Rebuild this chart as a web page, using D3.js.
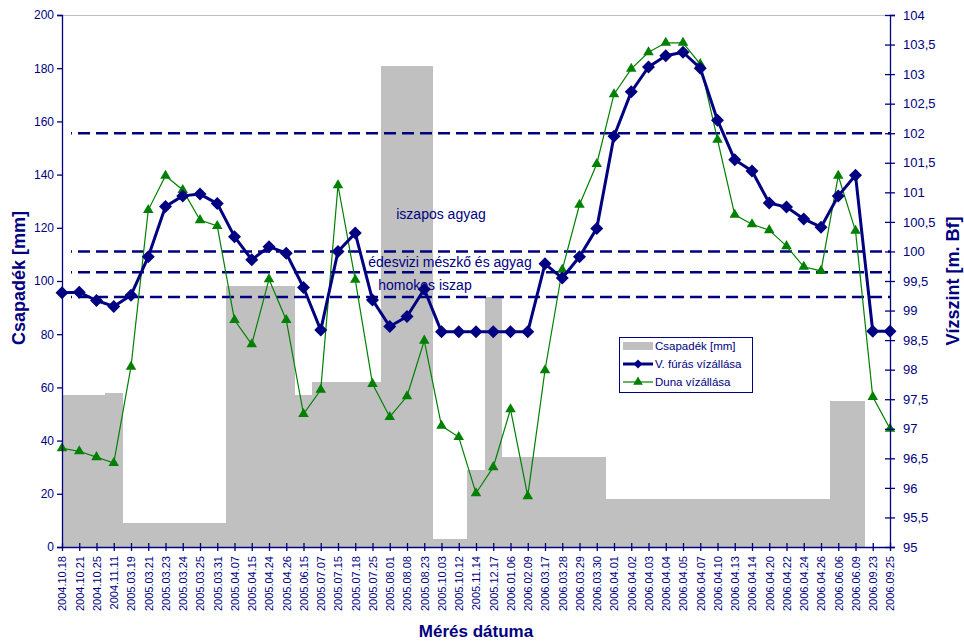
<!DOCTYPE html>
<html>
<head>
<meta charset="utf-8">
<script src="https://cdn.jsdelivr.net/npm/d3@7/dist/d3.min.js"></script>
<style>
  html, body { margin: 0; padding: 0; background: #fff; }
  svg { display: block; font-family: "Liberation Sans", Arial, sans-serif; }
</style>
</head>
<body>
<svg id="chart" width="964" height="641"></svg>
<script>
// Measurement dates (category axis)
const dates = [
  "2004.10.18","2004.10.21","2004.10.25","2004.11.11","2005.03.19","2005.03.21","2005.03.23",
  "2005.03.24","2005.03.25","2005.03.31","2005.04.07","2005.04.15","2005.04.24","2005.04.26",
  "2005.06.15","2005.07.07","2005.07.15","2005.07.18","2005.07.25","2005.08.01","2005.08.08",
  "2005.08.23","2005.10.03","2005.10.12","2005.11.14","2005.12.17","2006.01.06","2006.02.09",
  "2006.03.17","2006.03.28","2006.03.29","2006.03.30","2006.04.01","2006.04.02","2006.04.03",
  "2006.04.04","2006.04.05","2006.04.07","2006.04.10","2006.04.13","2006.04.14","2006.04.20",
  "2006.04.22","2006.04.24","2006.04.26","2006.06.06","2006.06.09","2006.09.23","2006.09.25"
];

// Precipitation [mm] (left axis)
const precipitation = [
  57, 57, 57, 58, 9, 9, 9, 9, 9, 9, 98, 98, 98, 98, 57, 62, 62, 62, 62, 181, 181, 181,
  3, 3, 29, 94, 34, 34, 34, 34, 34, 34, 18, 18, 18, 18, 18, 18, 18, 18, 18, 18, 18, 18, 18,
  55, 55, 0, 0
];

// Water level in borehole V. [m Bf] (right axis)
const wellLevel = [
  99.30, 99.31, 99.17, 99.07, 99.26, 99.91, 100.76, 100.94, 100.97, 100.81, 100.25, 99.86,
  100.08, 99.97, 99.39, 98.67, 100.00, 100.31, 99.18, 98.73, 98.90, 99.36, 98.64, 98.64,
  98.64, 98.64, 98.64, 98.64, 99.79, 99.55, 99.91, 100.39, 101.95, 102.70, 103.12, 103.31,
  103.37, 103.10, 102.22, 101.55, 101.36, 100.82, 100.75, 100.55, 100.41, 100.94, 101.29,
  98.65, 98.65
];

// Danube water level [m Bf] (right axis)
const danubeLevel = [
  96.67, 96.62, 96.52, 96.42, 98.05, 100.70, 101.28, 101.04, 100.53, 100.43, 98.84, 98.43,
  99.53, 98.84, 97.25, 97.66, 101.12, 99.52, 97.76, 97.20, 97.55, 98.49, 97.05, 96.86,
  95.91, 96.35, 97.33, 95.86, 97.99, 99.69, 100.79, 101.48, 102.66, 103.09, 103.37, 103.53,
  103.53, 103.17, 101.89, 100.62, 100.46, 100.36, 100.09, 99.74, 99.67, 101.28, 100.35,
  97.54, 97.00
];

// Layer boundaries [m Bf] and the layer names
const layerLevels = [102.0, 100.0, 99.65, 99.23];
const layerNames = ["iszapos agyag", "édesvizi mészkő és agyag", "homokos iszap"];

const leftTicks = d3.range(0, 201, 20);
const rightTicks = d3.range(95, 104.01, 0.5);

const seriesNames = ["Csapadék [mm]", "V. fúrás vízállása", "Duna vízállása"];

(function draw() {
  const navy = "#000080";
  const green = "#008000";
  const barGray = "#c0c0c0";
  const font = "Liberation Sans, Arial, sans-serif";

  const svg = d3.select("#chart");
  const pL = 62, pR = 890, pT = 15, pB = 547;

  const x = d3.scalePoint().domain(dates).range([pL, pR]).padding(0);
  const step = x.step();
  const yL = d3.scaleLinear().domain([0, 200]).range([pB, pT]);
  const yR = d3.scaleLinear().domain([95, 104]).range([pB, pT]);

  svg.append("defs").append("clipPath").attr("id", "plotClip")
    .append("rect").attr("x", pL).attr("y", pT).attr("width", pR - pL).attr("height", pB - pT);

  // plot frame top edge
  svg.append("line").attr("x1", pL).attr("x2", pR).attr("y1", pT + 0.5).attr("y2", pT + 0.5)
    .attr("stroke", "#c0c0c0").attr("stroke-width", 1);

  // precipitation bars
  svg.append("g").attr("clip-path", "url(#plotClip)")
    .selectAll("rect").data(dates).join("rect")
    .attr("x", d => x(d) - step / 2)
    .attr("width", step + 0.6)
    .attr("y", (d, i) => yL(precipitation[i]))
    .attr("height", (d, i) => yL(0) - yL(precipitation[i]))
    .attr("fill", barGray)
    .attr("shape-rendering", "crispEdges");

  // layer boundary lines
  svg.append("g").selectAll("line").data(layerLevels).join("line")
    .attr("x1", 71).attr("x2", pR)
    .attr("y1", d => yR(d)).attr("y2", d => yR(d))
    .attr("stroke", navy).attr("stroke-width", 2.5)
    .attr("stroke-dasharray", "12,6").attr("stroke-dashoffset", 11);

  // layer labels
  const labelX = [441, 450, 425];
  const labelY = [219, 267, 290];
  svg.append("g").selectAll("text").data(layerNames).join("text")
    .attr("x", (d, i) => labelX[i]).attr("y", (d, i) => labelY[i])
    .attr("text-anchor", "middle").attr("font-size", 14).attr("fill", navy)
    .text(d => d);

  const lineR = vals => d3.line().x((d, i) => x(dates[i])).y(d => yR(d))(vals);

  // Danube line
  svg.append("path").attr("d", lineR(danubeLevel))
    .attr("fill", "none").attr("stroke", green).attr("stroke-width", 1.2);
  const tri = d3.symbol().type(d3.symbolTriangle).size(48);
  svg.append("g").selectAll("path").data(danubeLevel).join("path")
    .attr("transform", (d, i) => `translate(${x(dates[i])},${yR(d)})`)
    .attr("d", tri).attr("fill", green);

  // borehole line
  svg.append("path").attr("d", lineR(wellLevel))
    .attr("fill", "none").attr("stroke", navy).attr("stroke-width", 3).attr("stroke-linejoin", "round");
  const diamond = r => `M0,${-r}L${r},0L0,${r}L${-r},0Z`;
  svg.append("g").selectAll("path").data(wellLevel).join("path")
    .attr("transform", (d, i) => `translate(${x(dates[i])},${yR(d)})`)
    .attr("d", diamond(6.5)).attr("fill", navy);

  // left axis
  const axL = svg.append("g").attr("transform", `translate(${pL},0)`)
    .call(d3.axisLeft(yL).tickValues(leftTicks).tickSize(5).tickPadding(3));
  axL.select(".domain").attr("stroke", navy).attr("stroke-width", 1.3);
  axL.selectAll(".tick line").attr("stroke", navy).attr("stroke-width", 1.3);
  axL.selectAll(".tick text").attr("fill", navy).attr("font-size", 12).attr("font-family", font);

  // right axis
  const commaFmt = v => (Number.isInteger(v) ? String(v) : v.toFixed(1).replace(".", ","));
  const axR = svg.append("g").attr("transform", `translate(${pR},0)`)
    .call(d3.axisRight(yR).tickValues(rightTicks).tickSize(5).tickPadding(8).tickFormat(commaFmt));
  axR.select(".domain").attr("stroke", navy).attr("stroke-width", 1.3);
  axR.selectAll(".tick line").attr("stroke", navy).attr("stroke-width", 1.3).attr("x1", -5);
  axR.selectAll(".tick text").attr("fill", navy).attr("font-size", 13).attr("font-family", font);

  // category axis
  const axX = svg.append("g").attr("transform", `translate(0,${pB})`)
    .call(d3.axisBottom(x).tickSize(4).tickSizeOuter(0));
  axX.select(".domain").attr("stroke", navy).attr("stroke-width", 1.3);
  axX.selectAll(".tick line").attr("stroke", navy).attr("stroke-width", 1.3).attr("y1", -4);
  axX.selectAll(".tick text")
    .attr("fill", navy).attr("font-size", 11).attr("font-family", font)
    .attr("transform", "rotate(-90)")
    .attr("text-anchor", "end")
    .attr("x", -9).attr("y", 0).attr("dy", "0.35em");

  // axis titles
  svg.append("text").attr("transform", "translate(25,278) rotate(-90)")
    .attr("text-anchor", "middle").attr("font-size", 18).attr("font-weight", "bold")
    .attr("fill", navy).text("Csapadék [mm]");
  svg.append("text").attr("transform", "translate(959,281) rotate(-90)")
    .attr("text-anchor", "middle").attr("font-size", 18).attr("font-weight", "bold")
    .attr("fill", navy).text("Vízszint [m. Bf]");
  svg.append("text").attr("x", 476).attr("y", 637)
    .attr("text-anchor", "middle").attr("font-size", 17).attr("font-weight", "bold")
    .attr("fill", navy).text("Mérés dátuma");

  // legend
  const lg = svg.append("g").attr("transform", "translate(619,337)");
  lg.append("rect").attr("x", 0.5).attr("y", 0.5).attr("width", 133).attr("height", 55)
    .attr("fill", "#fff").attr("stroke", navy).attr("stroke-width", 1);
  const rowY = [9, 27, 45];
  lg.append("rect").attr("x", 4).attr("y", rowY[0] - 4).attr("width", 30).attr("height", 8).attr("fill", barGray);
  lg.append("line").attr("x1", 4).attr("x2", 34).attr("y1", rowY[1]).attr("y2", rowY[1])
    .attr("stroke", navy).attr("stroke-width", 3);
  lg.append("path").attr("transform", `translate(19,${rowY[1]})`).attr("d", diamond(4.5)).attr("fill", navy);
  lg.append("line").attr("x1", 4).attr("x2", 34).attr("y1", rowY[2]).attr("y2", rowY[2])
    .attr("stroke", green).attr("stroke-width", 1.2);
  lg.append("path").attr("transform", `translate(19,${rowY[2]})`)
    .attr("d", d3.symbol().type(d3.symbolTriangle).size(40)).attr("fill", green);
  lg.selectAll("text.item").data(seriesNames).join("text").attr("class", "item")
    .attr("x", 36).attr("y", (d, i) => rowY[i]).attr("dy", "0.35em")
    .attr("font-size", 11.5).attr("fill", navy).text(d => d);
})();
</script>
</body>
</html>
